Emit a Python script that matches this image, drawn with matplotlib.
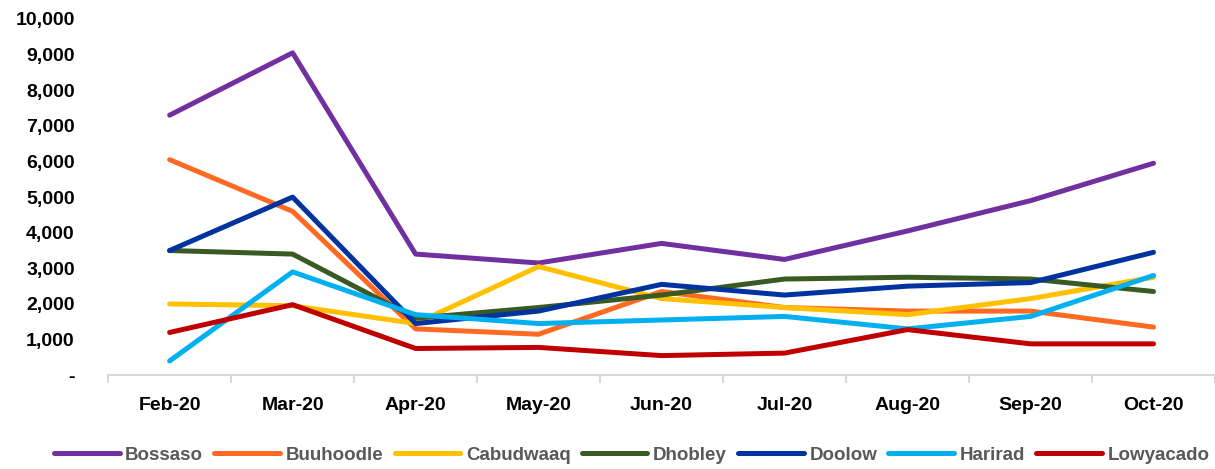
import matplotlib
matplotlib.use("Agg")
from matplotlib import pyplot as plt
from matplotlib.ticker import FuncFormatter, FixedLocator

months = ["Feb-20", "Mar-20", "Apr-20", "May-20", "Jun-20", "Jul-20", "Aug-20", "Sep-20", "Oct-20"]

bossaso = [7300, 9050, 3400, 3150, 3700, 3250, 4050, 4900, 5950]
buuhoodle = [6050, 4600, 1300, 1150, 2350, 1900, 1800, 1800, 1350]
cabudwaaq = [2000, 1950, 1450, 3050, 2150, 1900, 1700, 2150, 2750]
dhobley = [3500, 3400, 1600, 1900, 2250, 2700, 2750, 2700, 2350]
doolow = [3500, 5000, 1450, 1800, 2550, 2250, 2500, 2600, 3450]
harirad = [400, 2900, 1700, 1450, 1550, 1650, 1300, 1650, 2800]
lowyacado = [1200, 1980, 750, 780, 550, 620, 1280, 880, 880]

series = [
    ("Bossaso", bossaso, "#7030A0"),
    ("Buuhoodle", buuhoodle, "#FF6A22"),
    ("Cabudwaaq", cabudwaaq, "#FFC000"),
    ("Dhobley", dhobley, "#3A5A24"),
    ("Doolow", doolow, "#0033A0"),
    ("Harirad", harirad, "#00B0F0"),
    ("Lowyacado", lowyacado, "#C00000"),
]

plt.rcParams['font.family'] = ['Liberation Sans', 'DejaVu Sans']

fig = plt.figure(figsize=(12.15, 4.69), dpi=100)
ax = fig.add_axes([0.089, 0.2, 0.911, 0.7595])

x = list(range(len(months)))
for name, vals, col in series:
    ax.plot(x, vals, color=col, lw=3.6, label=name, solid_capstyle='round')

ax.set_xlim(-0.5, len(months) - 0.5)
ax.set_ylim(0, 10000)
ax.set_yticks(range(0, 10001, 1000))
ax.yaxis.set_major_formatter(FuncFormatter(lambda v, p: "-" if v == 0 else f"{int(v):,}"))
ax.set_xticks(x)
ax.set_xticklabels(months)
ax.xaxis.set_minor_locator(FixedLocator([i - 0.5 for i in range(len(months) + 1)]))
ax.tick_params(axis='x', which='major', length=0, pad=16)
ax.tick_params(axis='x', which='minor', length=6, color='#D9D9D9', width=1.5)
ax.tick_params(axis='y', length=0, pad=24)
for lab in ax.get_xticklabels() + ax.get_yticklabels():
    lab.set_fontsize(14)
    lab.set_fontweight('bold')

for s in ['top', 'right', 'left']:
    ax.spines[s].set_visible(False)
ax.spines['bottom'].set_color('#D9D9D9')
ax.spines['bottom'].set_linewidth(1.5)

leg = fig.legend(loc='lower center', ncol=7, bbox_to_anchor=(0.52, -0.025), frameon=False,
                 handlelength=3.5, columnspacing=0.6, handletextpad=0.3,
                 prop={'size': 13.5, 'weight': 'bold'})
for t in leg.get_texts():
    t.set_color('#595959')

fig.savefig("out.png", dpi=100)
